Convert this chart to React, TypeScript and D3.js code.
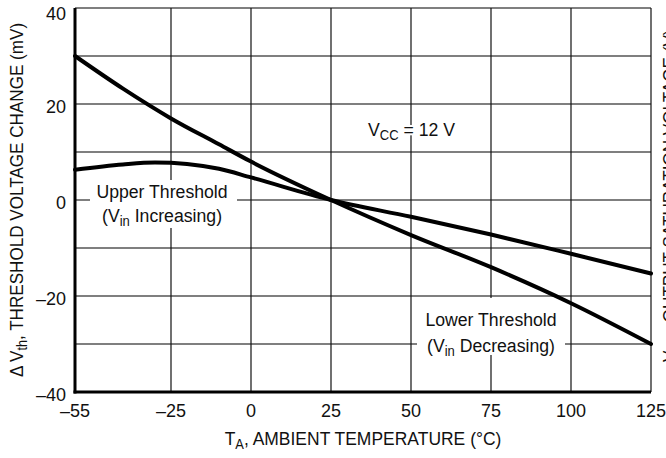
import React from "react";
import * as d3 from "d3";

const tempTicks = [-55, -25, 0, 25, 50, 75, 100, 125];
const mvGrid = [-40, -30, -20, -10, 0, 10, 20, 30, 40];
const mvLabels = [40, 20, 0, -20, -40];

const upperT = [-55, -40, -30, -20, -10, 0, 25, 50, 75, 100, 125];
const upperV = [6.3, 7.4, 7.8, 7.5, 6.5, 4.7, 0, -3.5, -7.2, -11.2, -15.3];
const lowerT = [-55, -40, -25, -10, 0, 25, 50, 75, 100, 125];
const lowerV = [30, 23.2, 17, 11.6, 8, 0, -7.3, -14, -21.5, -30];

const FONT = "'Liberation Sans', Arial, Helvetica, sans-serif";

type TProps = {
  x: number;
  y: number;
  anchor?: string;
  size?: number;
  sx?: number;
  rot?: number;
  halo?: boolean;
  children: React.ReactNode;
};

function T({ x, y, anchor = "middle", size = 19, sx = 0.93, rot = 0, halo = false, children }: TProps) {
  return (
    <g transform={`translate(${x},${y}) rotate(${rot}) scale(${sx},1)`}>
      <text
        x={0}
        y={0}
        textAnchor={anchor}
        fontSize={size}
        fill="#111"
        stroke={halo ? "#fff" : undefined}
        strokeWidth={halo ? 4 : undefined}
        strokeLinejoin="round"
        paintOrder="stroke"
      >
        {children}
      </text>
    </g>
  );
}

function Sub({ text, size = 14 }: { text: string; size?: number }) {
  return (
    <tspan dy={4} fontSize={size}>
      {text}
    </tspan>
  );
}

export default function App() {
  const W = 666, H = 458;
  const L = 75, R = 651, Tp = 8, B = 392;
  const x = d3.scaleLinear().domain([-55, 125]).range([L, R]);
  const y = d3.scaleLinear().domain([-40, 40]).range([B, Tp]);
  const line = d3
    .line<[number, number]>()
    .x((d) => x(d[0]))
    .y((d) => y(d[1]))
    .curve(d3.curveMonotoneX);
  const upper = line(upperT.map((t, i) => [t, upperV[i]]) as [number, number][]) || "";
  const lower = line(lowerT.map((t, i) => [t, lowerV[i]]) as [number, number][]) || "";
  const fmt = (v: number) => (v < 0 ? "\u2013" + Math.abs(v) : String(v));

  return (
    <svg
      width={W}
      height={H}
      viewBox={`0 0 ${W} ${H}`}
      style={{ position: "absolute", left: 0, top: 0, background: "#fff" }}
      fontFamily={FONT}
    >
      <rect x={0} y={0} width={W} height={H} fill="#fff" />
      {/* horizontal grid */}
      {mvGrid.map((v) => (
        <line key={"h" + v} x1={L} x2={R} y1={y(v)} y2={y(v)} stroke="#555" strokeWidth={1.5} />
      ))}
      {/* vertical grid */}
      {tempTicks.map((t) => (
        <line key={"v" + t} x1={x(t)} x2={x(t)} y1={Tp} y2={B} stroke="#111" strokeWidth={1.2} />
      ))}
      {/* label boxes */}
      <rect x={90} y={180} width={147} height={48} fill="#fff" />
      <rect x={417} y={298} width={148} height={57} fill="#fff" />
      {/* curves */}
      <path d={lower} fill="none" stroke="#000" strokeWidth={4} strokeLinecap="round" />
      <path d={upper} fill="none" stroke="#000" strokeWidth={4} strokeLinecap="round" />
      {/* axes */}
      <line x1={L} x2={L} y1={Tp} y2={B + 1.5} stroke="#000" strokeWidth={3} />
      <line x1={L - 1.5} x2={R} y1={B} y2={B} stroke="#000" strokeWidth={3} />
      {/* tick labels */}
      {mvLabels.map((v) => (
        <T key={"yl" + v} x={66} y={y(v) + (v === 40 ? 12 : 9)} anchor="end" size={18} sx={1}>
          {fmt(v)}
        </T>
      ))}
      {tempTicks.map((t) => (
        <T key={"xl" + t} x={x(t)} y={417} size={18} sx={1}>
          {fmt(t)}
        </T>
      ))}
      {/* axis titles */}
      <T x={363} y={445} size={19} sx={0.92}>
        T<Sub text="A" />
        <tspan dy={-4}>, AMBIENT TEMPERATURE (°C)</tspan>
      </T>
      <T x={23} y={200} rot={-90} size={19} sx={0.9}>
        Δ V<Sub text="th" />
        <tspan dy={-4}>, THRESHOLD VOLTAGE CHANGE (mV)</tspan>
      </T>
      <T x={676} y={362} rot={-90} anchor="start" size={19} sx={0.9}>
        V<Sub text="OH" />
        <tspan dy={-4}>, OUTPUT SATURATION VOLTAGE (V)</tspan>
      </T>
      {/* annotations */}
      <T x={162} y={198}>Upper Threshold</T>
      <T x={162} y={222}>
        (V<Sub text="in" />
        <tspan dy={-4}> Increasing)</tspan>
      </T>
      <T x={491} y={326}>Lower Threshold</T>
      <T x={491} y={352}>
        (V<Sub text="in" />
        <tspan dy={-4}> Decreasing)</tspan>
      </T>
      <T x={368} y={136} anchor="start" halo>
        V<Sub text="CC" />
        <tspan dy={-4}> = 12 V</tspan>
      </T>
    </svg>
  );
}
